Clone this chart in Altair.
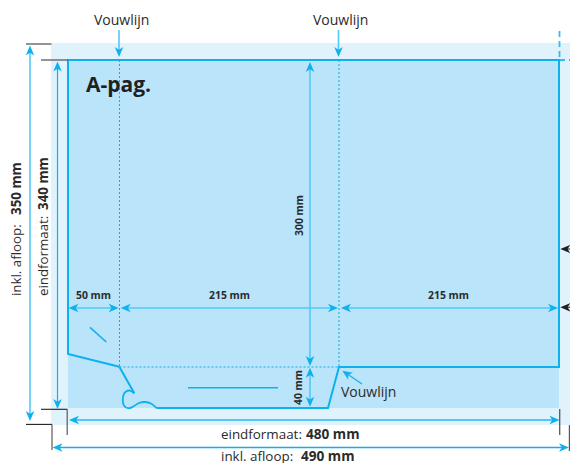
import altair as alt
import pandas as pd

X_DOMAIN = [8, 570]
Y_DOMAIN = [463, 8]
WIDTH = X_DOMAIN[1] - X_DOMAIN[0]
HEIGHT = Y_DOMAIN[0] - Y_DOMAIN[1]

BLEED_FILL = "#e0f3fc"
TRIM_FILL = "#b9e4fa"
CUT = "#0eb1ee"
LIGHT = "#55c8f5"
DARK = "#1f1f1f"
GREY = "#5a5a5a"

# Rectangles
rect_x1 = [51, 68]
rect_x2 = [576, 559]
rect_y1 = [43, 60]
rect_y2 = [425, 408]
rect_fill = [BLEED_FILL, TRIM_FILL]

# Cut outline of the folder
outer_x = [119.3, 134.3]
outer_y = [366.7, 393.3]
main_x = [156.5, 328, 339, 559, 559, 68, 68, 119.3]
main_y = [408, 408, 367, 367, 60, 60, 354, 366.7]
curve_x = [134.3, 130, 126, 123.5, 122.8, 123.5, 126, 130, 134, 139, 145, 151, 156.5]
curve_y = [393.3, 390.6, 391.6, 395, 400, 404.5, 407.5, 408, 406, 403, 402, 403.5, 408]

# Straight lines: x1, y1, x2, y2, colour, width
seg = [
    # slits
    (90, 327.3, 106.3, 342, CUT, 1.6),
    (188, 387.8, 278, 387.8, CUT, 1.6),
    # top labels
    (119, 30, 119, 50, LIGHT, 1.6),
    (338.5, 30, 338.5, 50, LIGHT, 1.6),
    # left height arrows
    (30, 50, 30, 416, LIGHT, 1.6),
    (57.5, 65, 57.5, 404, CUT, 1.2),
    # width arrows
    (74, 420, 554, 420, LIGHT, 2),
    (57, 447.5, 564, 447.5, CUT, 1.4),
    # inner dimensions
    (73, 308, 114, 308, LIGHT, 1.6),
    (126, 308, 333, 308, LIGHT, 1.6),
    (346, 308, 553, 308, LIGHT, 1.6),
    (310, 67, 310, 360, LIGHT, 1.6),
    (310, 373, 310, 401, LIGHT, 1.6),
    (362, 384, 346, 373, CUT, 1.2),
    # crop ticks
    (26, 44, 51.5, 44, GREY, 1.3),
    (41, 60, 68, 60, GREY, 1.3),
    (41, 409.3, 67.3, 409.3, DARK, 1.1),
    (67.2, 409.3, 67.2, 435, GREY, 1.2),
    (26, 424.4, 52, 424.4, DARK, 1.1),
    (52, 424.4, 52, 450, GREY, 1.2),
    (559.7, 409, 559.7, 435, GREY, 1.3),
    (569.4, 425, 569.4, 451, GREY, 1.2),
    # right callouts
    (566, 249, 578, 249, DARK, 1),
    (566, 307.3, 578, 307.3, GREY, 1.5),
]

# Dashed lines
dash_thin = [
    (119.5, 60, 119.5, 367),
    (339, 60, 339, 367),
    (119.5, 367, 339, 367),
]
dash_corner = [
    (559.5, 31, 559.5, 60),
    (559, 60, 578, 60),
]

# Arrowheads: tip x, tip y, direction in degrees, colour
heads = [
    (119, 57, 180, CUT), (338.5, 57, 180, CUT),
    (30, 45.5, 0, CUT), (30, 421, 180, CUT),
    (57.5, 61.5, 0, CUT), (57.5, 409, 180, CUT),
    (69, 420, 270, CUT), (559.5, 420, 90, CUT),
    (52.5, 447.5, 270, CUT), (569, 447.5, 90, CUT),
    (68.5, 308, 270, CUT), (118.7, 308, 90, CUT),
    (120.7, 308, 270, CUT), (338, 308, 90, CUT),
    (341, 308, 270, CUT), (558, 308, 90, CUT),
    (310, 62, 0, CUT), (310, 366, 180, CUT),
    (310, 367.7, 0, CUT), (310, 406.7, 180, CUT),
    (342.3, 370.7, 304, CUT),
    (560.3, 249, 270, DARK), (560.3, 307.3, 270, DARK),
]

# Texts: x, y, text
fold_labels = [(94, 21, "Vouwlijn"), (313, 21, "Vouwlijn"), (341, 393, "Vouwlijn")]
regular_h = [(221, 435, "eindformaat:"), (221, 456.5, "inkl. afloop:")]
bold_h = [(306, 435, "480 mm"), (301, 456.5, "490 mm")]
small_bold_h = [(76, 296, "50 mm"), (209, 296, "215 mm"), (428, 296, "215 mm")]
title = [(86, 86, "A-pag.")]
regular_v = [(17, 296, "inkl. afloop:"), (44, 296, "eindformaat:")]
bold_v = [(17, 215, "350 mm"), (44, 210, "340 mm")]
small_bold_v = [(299.5, 236, "300 mm"), (299, 405, "40 mm")]

FONT = "Open Sans"
ARROW = "M0,0 L0.85,2 L0,1.45 L-0.85,2 Z"

x_scale = alt.Scale(domain=X_DOMAIN, nice=False, zero=False)
y_scale = alt.Scale(domain=Y_DOMAIN, nice=False, zero=False)
X = alt.X("x:Q", scale=x_scale, axis=None)
Y = alt.Y("y:Q", scale=y_scale, axis=None)


def text_layer(rows, size, weight="normal", angle=0, color="#2b2b2b"):
    df = pd.DataFrame(rows, columns=["x", "y", "t"])
    return alt.Chart(df).mark_text(
        font=FONT, fontSize=size, fontWeight=weight, angle=angle,
        align="left", baseline="middle", color=color,
    ).encode(x=X, y=Y, text="t:N")


def path_layer(xs, ys, width=2, interpolate="linear"):
    df = pd.DataFrame({"x": xs, "y": ys, "o": range(len(xs))})
    return alt.Chart(df).mark_line(
        color=CUT, strokeWidth=width, interpolate=interpolate,
        strokeJoin="miter", strokeCap="butt", clip=True,
    ).encode(x=X, y=Y, order="o:Q")


def dash_layer(rows, width, dash, color):
    df = pd.DataFrame(rows, columns=["x", "y", "x2", "y2"])
    return alt.Chart(df).mark_rule(
        color=color, strokeWidth=width, strokeDash=dash, clip=True,
    ).encode(x=X, y=Y, x2="x2:Q", y2="y2:Q")


rects = alt.Chart(pd.DataFrame({
    "x": rect_x1, "x2": rect_x2, "y": rect_y1, "y2": rect_y2, "f": rect_fill, "o": [0, 1],
})).mark_rect(strokeWidth=0, clip=True).encode(
    x=X, y=Y, x2="x2:Q", y2="y2:Q",
    fill=alt.Fill("f:N", scale=None), order="o:Q",
)

segs = alt.Chart(pd.DataFrame(seg, columns=["x", "y", "x2", "y2", "c", "w"])).mark_rule(clip=True).encode(
    x=X, y=Y, x2="x2:Q", y2="y2:Q",
    color=alt.Color("c:N", scale=None),
    strokeWidth=alt.StrokeWidth("w:Q", scale=None),
)

arrowheads = alt.Chart(pd.DataFrame(heads, columns=["x", "y", "a", "c"])).mark_point(
    shape=ARROW, filled=True, size=100, opacity=1, strokeWidth=0,
).encode(
    x=X, y=Y,
    angle=alt.Angle("a:Q", scale=None),
    fill=alt.Fill("c:N", scale=None),
)

chart = alt.layer(
    rects,
    dash_layer(dash_thin, 1, [2, 2], CUT),
    dash_layer(dash_corner, 1.8, [6, 4], "#2dbdf5"),
    path_layer(main_x, main_y),
    path_layer(outer_x, outer_y),
    path_layer(curve_x, curve_y, 1.8, "cardinal"),
    segs,
    arrowheads,
    text_layer(fold_labels, 14),
    text_layer(regular_h, 13.4),
    text_layer(bold_h, 13.6, "bold"),
    text_layer(small_bold_h, 10.4, "bold"),
    text_layer(title, 21, "bold", color="#231f20"),
    text_layer(regular_v, 13.3, angle=270),
    text_layer(bold_v, 13.4, "bold", angle=270),
    text_layer(small_bold_v, 10.4, "bold", angle=270),
).properties(
    width=WIDTH, height=HEIGHT, padding=0, autosize=alt.AutoSizeParams(type="none"),
).configure_view(stroke=None)

chart.save("out.html", embed_options={"renderer": "svg", "actions": False})
